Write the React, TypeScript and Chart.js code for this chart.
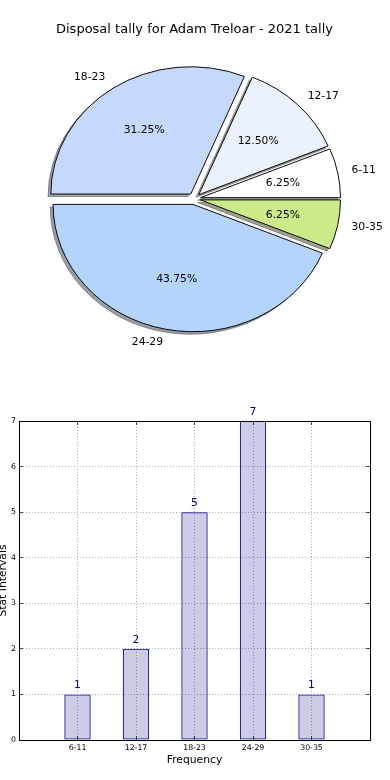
import React, { useEffect, useRef } from 'react';
import { Chart, registerables, ArcElement, PieController } from 'chart.js';

Chart.register(...registerables);

// ---- data ----
const categories = ['6-11', '12-17', '18-23', '24-29', '30-35'];
const counts = [1, 2, 5, 7, 1];
const yTickValues = [0, 1, 2, 3, 4, 5, 6, 7];
const titleText = 'Disposal tally for Adam Treloar - 2021 tally';
const xAxisTitle = 'Frequency';
const yAxisTitle = 'Stat Intervals';

// ---- styles ----
const sliceColors = ['#ffffff', '#ebf2fe', '#c5d8fe', '#b4d4fe', '#cdea8b'];
const explodeFrac = [0.045, 0.045, 0.045, 0.045, 0.045];
const FONT = '"DejaVu Sans", sans-serif';
const PIE_W = 390, PIE_H = 400, BAR_H = 380;
const PIE_RX = 140, PIE_RY = 127.3, PIE_CX = 194.3, PIE_CY = 198.8;
const SHADOW = 0.02;
const LABEL_DIST = 1.1, PCT_DIST = 0.6;

Chart.defaults.font.family = FONT;

function shadeOf(hex: string): string {
  const h = hex.replace('#', '');
  const r = parseInt(h.slice(0, 2), 16);
  const g = parseInt(h.slice(2, 4), 16);
  const b = parseInt(h.slice(4, 6), 16);
  return `rgba(${Math.round(r * 0.3)},${Math.round(g * 0.3)},${Math.round(b * 0.3)},0.5)`;
}

// Arc pushed out along its mid angle (radius unchanged), with a drop shadow drawn just before it
class ExplodedArc extends ArcElement {
  static id = 'explodedArc';
  static defaults = { ...ArcElement.defaults, explode: 0, shadowX: 0, shadowY: 0 };
  draw(ctx: CanvasRenderingContext2D) {
    const self: any = this;
    const opts = self.options || {};
    const d = opts.explode || 0;
    const mid = (self.startAngle + self.endAngle) / 2;
    ctx.save();
    ctx.translate(Math.cos(mid) * d, Math.sin(mid) * d);
    const sx = opts.shadowX || 0, sy = opts.shadowY || 0;
    if (sx || sy) {
      const m = ctx.getTransform();
      const det = m.a * m.d - m.b * m.c;
      const px = (m.d * sx - m.c * sy) / det;
      const py = (-m.b * sx + m.a * sy) / det;
      const col = typeof opts.backgroundColor === 'string' ? shadeOf(opts.backgroundColor) : 'rgba(70,70,70,0.5)';
      ctx.save();
      ctx.translate(px, py);
      (ctx as any).filter = 'blur(0.5px)';
      self.options = { ...opts, backgroundColor: col, borderColor: col };
      super.draw(ctx);
      self.options = opts;
      ctx.restore();
    }
    super.draw(ctx);
    ctx.restore();
  }
}

class ExplodedPieController extends PieController {
  static id = 'explodedPie';
  static defaults = { dataElementType: 'explodedArc' };
}

Chart.register(ExplodedArc as any, ExplodedPieController as any);

const pieDecor = {
  id: 'pieDecor',
  beforeDatasetsDraw(chart: any) {
    const ctx = chart.ctx;
    const el = chart.getDatasetMeta(0).data[0];
    const cx = el.x, cy = el.y;
    ctx.save();
    ctx.translate(cx, cy);
    ctx.scale(1, -PIE_RY / PIE_RX);
    ctx.translate(-cx, -cy);
  },
  afterDatasetsDraw(chart: any) {
    const ctx = chart.ctx;
    ctx.restore();
    const el = chart.getDatasetMeta(0).data[0];
    const cx = el.x, cy = el.y;
    const total = counts.reduce((s, v) => s + v, 0);
    let acc = 0;
    ctx.save();
    ctx.fillStyle = '#000';
    ctx.font = `10.75px ${FONT}`;
    ctx.textBaseline = 'middle';
    counts.forEach((v, i) => {
      const frac = v / total;
      const mid = (acc + frac / 2) * Math.PI * 2;
      acc += frac;
      const cos = Math.cos(mid), sin = Math.sin(mid);
      const ox = cx + explodeFrac[i] * PIE_RX * cos;
      const oy = cy - explodeFrac[i] * PIE_RY * sin;
      const lx = ox + LABEL_DIST * PIE_RX * cos;
      const ly = oy - LABEL_DIST * PIE_RY * sin;
      ctx.textAlign = lx - cx > 0 ? 'left' : 'right';
      ctx.fillText(categories[i], lx, ly);
      ctx.textAlign = 'center';
      ctx.fillText(`${(frac * 100).toFixed(2)}%`, ox + PCT_DIST * PIE_RX * cos, oy - PCT_DIST * PIE_RY * sin);
    });
    ctx.restore();
  },
  afterDraw(chart: any) {
    const ctx = chart.ctx;
    ctx.save();
    ctx.fillStyle = '#000';
    ctx.font = `13px ${FONT}`;
    ctx.textAlign = 'center';
    ctx.textBaseline = 'middle';
    ctx.fillText(titleText, 194.5, 30);
    ctx.restore();
  },
};

const barLabels = ['', ...categories, ''];
const barData = [null, ...counts, null];

const barDecor = {
  id: 'barDecor',
  afterDatasetsDraw(chart: any) {
    const { ctx, chartArea: a, scales } = chart;
    const ys = scales.y, xs = scales.x;
    ctx.save();
    ctx.lineWidth = 1;
    ctx.strokeStyle = 'rgba(0,0,0,0.7)';
    ctx.beginPath();
    yTickValues.forEach((v) => {
      const y = Math.round(ys.getPixelForValue(v) - 0.5) + 0.5;
      ctx.moveTo(a.left, y); ctx.lineTo(a.left + 4, y);
      ctx.moveTo(a.right - 4, y); ctx.lineTo(a.right, y);
    });
    categories.forEach((c) => {
      const x = Math.round(xs.getPixelForValue(barLabels.indexOf(c)) - 0.5) + 0.5;
      ctx.moveTo(x, a.bottom); ctx.lineTo(x, a.bottom - 4);
      ctx.moveTo(x, a.top); ctx.lineTo(x, a.top + 4);
    });
    ctx.stroke();
    ctx.strokeStyle = '#000';
    ctx.strokeRect(a.left + 0.5, a.top + 0.5, a.right - a.left, a.bottom - a.top);
    // value labels
    const meta = chart.getDatasetMeta(0);
    ctx.fillStyle = '#000080';
    ctx.font = `10.75px ${FONT}`;
    ctx.textAlign = 'center';
    ctx.textBaseline = 'alphabetic';
    meta.data.forEach((el: any, i: number) => {
      const v = barData[i];
      if (v === null || v === undefined) return;
      ctx.fillText(String(v), el.x, el.y - 6);
    });
    ctx.restore();
  },
  afterDraw(chart: any) {
    const { ctx, chartArea: a } = chart;
    ctx.save();
    ctx.fillStyle = '#000';
    ctx.font = `10.75px ${FONT}`;
    ctx.textAlign = 'center';
    ctx.textBaseline = 'middle';
    ctx.fillText(xAxisTitle, (a.left + a.right) / 2, 360.7);
    ctx.translate(6, (a.top + a.bottom) / 2);
    ctx.rotate(-Math.PI / 2);
    ctx.textBaseline = 'alphabetic';
    ctx.fillText(yAxisTitle, 0, 0);
    ctx.restore();
  },
};

export default function App() {
  const pieRef = useRef<HTMLCanvasElement>(null);
  const barRef = useRef<HTMLCanvasElement>(null);

  useEffect(() => {
    const pie = new Chart(pieRef.current as HTMLCanvasElement, {
      type: 'explodedPie' as any,
      data: {
        labels: categories,
        datasets: [
          {
            data: counts,
            backgroundColor: sliceColors,
            borderColor: '#000',
            borderWidth: 1,
            borderJoinStyle: 'miter',
            explode: explodeFrac.map((e) => e * PIE_RX),
            shadowX: -SHADOW * PIE_RX,
            shadowY: SHADOW * PIE_RY,
            clip: false,
          } as any,
        ],
      },
      options: {
        animation: false,
        responsive: false,
        devicePixelRatio: 1,
        events: [],
        rotation: 90,
        radius: PIE_RX,
        layout: { padding: { left: 0, top: 0, right: PIE_W - 2 * PIE_CX, bottom: PIE_H - 2 * PIE_CY } },
        plugins: { legend: { display: false }, tooltip: { enabled: false }, title: { display: false } },
      } as any,
      plugins: [pieDecor],
    });

    const tickFont = { family: FONT, size: 7.8 };
    const bar = new Chart(barRef.current as HTMLCanvasElement, {
      type: 'bar',
      data: {
        labels: barLabels,
        datasets: [
          {
            data: barData,
            backgroundColor: 'rgba(0,0,128,0.2)',
            borderColor: '#000080',
            borderWidth: 1,
            borderSkipped: false,
            barPercentage: 0.45,
            categoryPercentage: 1,
          } as any,
        ],
      },
      options: {
        animation: false,
        responsive: false,
        devicePixelRatio: 1,
        events: [],
        layout: { padding: { left: 0, top: 21, right: 20, bottom: 0 } },
        plugins: { legend: { display: false }, tooltip: { enabled: false }, title: { display: false } },
        scales: {
          x: {
            type: 'category',
            offset: false,
            grid: { display: true, offset: false, color: '#b0b0b0', lineWidth: 1, drawTicks: false },
            border: { display: true, color: '#000', width: 1, dash: [1, 2] },
            ticks: { font: tickFont, color: '#000', padding: 3, maxRotation: 0, minRotation: 0, autoSkip: false },
            afterFit: (s: any) => { s.height = 40; },
          },
          y: {
            min: 0,
            max: 7,
            grid: { display: true, color: '#b0b0b0', lineWidth: 1, drawTicks: false },
            border: { display: true, color: '#000', width: 1, dash: [1, 2] },
            ticks: { stepSize: 1, font: tickFont, color: '#000', padding: 3 },
            afterFit: (s: any) => { s.width = 19; },
          },
        },
      } as any,
      plugins: [barDecor],
    });

    return () => {
      pie.destroy();
      bar.destroy();
    };
  }, []);

  return (
    <div style={{ position: 'absolute', left: 0, top: 0, width: 390, height: 780, background: '#fff' }}>
      <canvas
        ref={pieRef}
        width={PIE_W}
        height={PIE_H}
        style={{ position: 'absolute', left: 0, top: 0, width: PIE_W, height: PIE_H }}
      />
      <canvas
        ref={barRef}
        width={PIE_W}
        height={BAR_H}
        style={{ position: 'absolute', left: 0, top: PIE_H, width: PIE_W, height: BAR_H }}
      />
    </div>
  );
}
